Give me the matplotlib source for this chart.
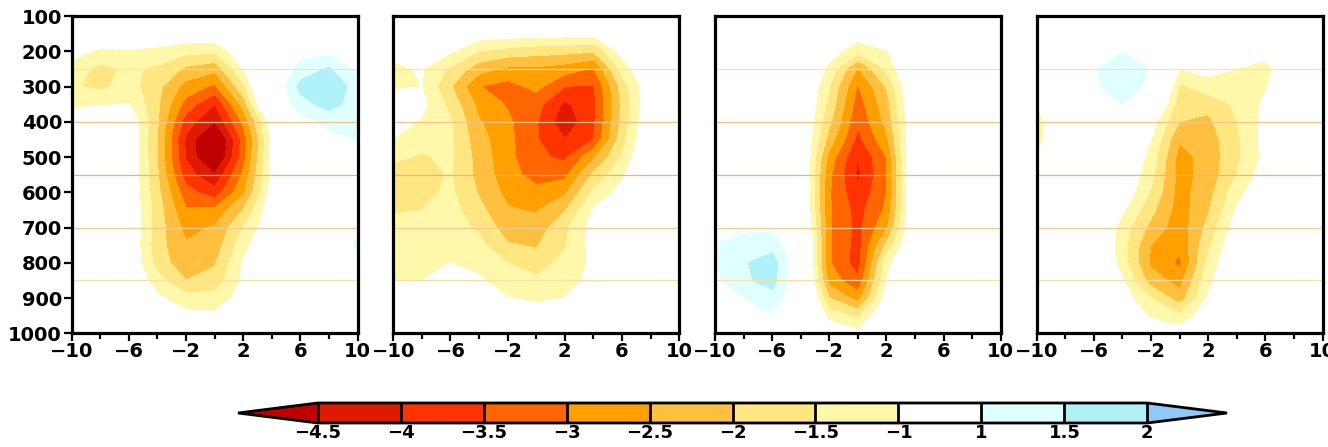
import numpy as np
import matplotlib
matplotlib.use("Agg")
import matplotlib.pyplot as plt
from matplotlib.colors import ListedColormap, BoundaryNorm

# ---------------- data ----------------
x_lon = [-10, -8, -6, -4, -2, 0, 2, 4, 6, 8, 10]
p_lev = [100, 150, 200, 250, 300, 350, 400, 450, 500, 550,
         600, 650, 700, 750, 800, 850, 900, 950, 1000]

# each inner list: one x column (x = -10 ... 10), values from p=100 down to p=1000
panel_a = [
    [0, -0.3, -0.8, -1.2, -1.45, -1.1, -0.6, -0.4, -0.3, -0.3, -0.2, -0.2, -0.2, -0.2, -0.1, -0.1, 0, 0, 0],
    [0, -0.5, -1.1, -1.65, -1.6, -1.05, -0.6, -0.4, -0.3, -0.3, -0.3, -0.3, -0.3, -0.3, -0.2, -0.2, -0.1, 0, 0],
    [0, -0.5, -1.05, -1.4, -1.3, -0.98, -0.5, -0.5, -0.5, -0.5, -0.5, -0.5, -0.5, -0.5, -0.5, -0.35, -0.2, -0.1, 0],
    [0, -0.55, -1.15, -1.6, -1.85, -1.9, -1.95, -2.0, -2.0, -1.95, -1.85, -1.75, -1.75, -1.8, -1.7, -1.3, -0.9, -0.5, -0.2],
    [-0.1, -0.6, -1.35, -2.1, -2.7, -3.2, -3.75, -4.1, -4.05, -3.75, -3.3, -2.95, -2.65, -2.45, -2.35, -2.0, -1.3, -0.85, -0.4],
    [-0.1, -0.6, -1.4, -2.35, -3.1, -4.0, -4.5, -5.4, -5.3, -4.45, -3.8, -2.9, -2.45, -2.3, -2.05, -1.8, -1.3, -0.9, -0.4],
    [0, -0.3, -0.6, -1.0, -1.6, -2.3, -2.9, -3.3, -3.2, -2.9, -2.6, -2.0, -1.5, -1.2, -0.95, -0.9, -0.8, -0.4, -0.1],
    [0, 0, -0.2, 0.3, 0.4, 0.3, -0.7, -0.85, -0.85, -0.85, -0.8, -0.6, -0.5, -0.4, -0.3, -0.2, -0.1, 0, 0],
    [0, 0.2, 0.75, 1.2, 1.65, 1.3, 0.75, 0.4, 0.2, 0, 0, 0, 0, 0, 0, 0, 0, 0, 0],
    [0, 0.3, 0.85, 1.55, 1.85, 1.7, 1.15, 0.85, 0.5, 0.3, 0.2, 0.2, 0.3, 0.4, 0.3, 0.1, 0, 0, 0],
    [0, 0.2, 0.6, 0.85, 1.3, 1.25, 1.1, 1.0, 0.6, 0.4, 0.4, 0.6, 0.9, 1.1, 0.8, 0.4, 0.2, 0, 0],
]

panel_b = [
    [0, -0.3, -0.85, -1.1, -1.05, -0.8, -0.8, -1.02, -1.4, -1.7, -1.7, -1.55, -1.35, -1.2, -1.1, -1.02, -0.6, -0.3, 0],
    [0, -0.3, -0.7, -0.95, -1.0, -0.85, -1.05, -1.35, -1.55, -1.7, -1.65, -1.5, -1.35, -1.25, -1.15, -1.0, -0.6, -0.3, 0],
    [0, -0.5, -0.95, -1.6, -1.95, -1.65, -1.45, -1.4, -1.4, -1.45, -1.4, -1.3, -1.25, -1.15, -1.0, -0.8, -0.5, -0.2, 0],
    [-0.15, -0.7, -1.5, -2.3, -2.98, -2.65, -2.45, -2.3, -2.2, -2.15, -2.05, -1.85, -1.6, -1.35, -1.2, -0.9, -0.6, -0.3, 0],
    [-0.2, -0.75, -1.7, -2.6, -3.2, -3.05, -2.9, -2.85, -2.85, -2.8, -2.65, -2.45, -2.25, -1.95, -1.5, -1.3, -0.98, -0.6, -0.2],
    [-0.2, -0.8, -1.8, -2.6, -2.85, -3.3, -3.45, -3.45, -3.4, -3.2, -2.85, -2.55, -2.3, -2.05, -1.75, -1.4, -1.1, -0.7, -0.3],
    [-0.2, -0.8, -1.85, -2.75, -3.5, -4.1, -4.35, -4.0, -3.6, -3.15, -2.6, -2.05, -1.6, -1.55, -1.35, -1.2, -1.0, -0.6, -0.3],
    [-0.2, -0.85, -1.95, -3.05, -3.55, -3.65, -3.6, -3.5, -2.6, -1.9, -1.4, -0.95, -0.8, -0.8, -0.9, -0.85, -0.3, -0.1, 0],
    [0, -0.4, -0.8, -1.3, -1.8, -1.9, -1.85, -1.7, -1.45, -1.1, -0.8, -0.5, -0.4, -0.35, -0.3, -0.2, -0.1, 0, 0],
    [0, -0.1, -0.2, -0.4, -0.5, -0.5, -0.45, -0.35, -0.2, -0.1, 0, 0, 0, 0, 0, 0, 0, 0, 0],
    [0, 0.2, 0.6, 1.05, 0.5, 0.2, 0, 0, 0, 0, 0, 0, 0, 0, 0, 0, 0, 0, 0],
]

panel_c = [
    [0, 0, 0, 0, 0, 0, 0, 0, 0, 0, 0, 0, 0.7, 1.0, 1.05, 0.85, 0.4, 0.1, 0],
    [0, 0, 0, 0, 0, 0, 0, 0, 0, 0, 0, 0, 0.9, 1.2, 1.45, 1.4, 1.0, 0.4, 0.1],
    [0, 0, 0, 0, 0, 0, 0, 0, 0, 0, 0, 0.5, 0.9, 1.3, 1.75, 1.7, 1.3, 0.95, 0.2],
    [0, 0, -0.1, -0.15, -0.2, -0.25, -0.3, -0.3, -0.2, -0.2, -0.2, -0.1, 0.2, 0.4, 0.4, 0.4, 0.4, 0.2, 0],
    [0, -0.3, -0.75, -1.15, -1.5, -1.65, -1.9, -2.2, -2.7, -2.9, -2.95, -2.95, -2.95, -2.95, -2.95, -2.7, -2.0, -1.2, -0.5],
    [-0.1, -0.7, -1.35, -2.55, -3.05, -3.25, -3.4, -3.65, -4.0, -4.1, -3.9, -3.7, -3.65, -3.7, -3.75, -3.4, -2.7, -1.6, -0.85],
    [0, -0.3, -1.05, -1.4, -1.95, -2.2, -2.35, -2.6, -3.0, -3.05, -3.0, -2.9, -2.6, -1.9, -1.2, -1.0, -0.8, -0.4, -0.2],
    [0, 0, -0.1, -0.2, -0.25, -0.3, -0.35, -0.3, -0.1, -0.05, -0.1, -0.2, -0.2, -0.2, -0.1, -0.05, 0, 0, 0],
    [0] * 19,
    [0] * 19,
    [0] * 19,
]

panel_d = [
    [0, 0, 0, -0.2, -0.6, -1.0, -1.25, -1.2, -1.0, -0.6, -0.3, -0.2, -0.1, 0, 0, 0, 0, 0, 0],
    [0, 0, 0.2, 0.3, 0.1, -0.2, -0.3, -0.3, -0.2, -0.1, 0, 0, 0, 0, 0, 0, 0, 0, 0],
    [0, 0.2, 0.7, 0.95, 0.9, 0.6, 0.2, 0, 0, 0, 0, 0, -0.1, -0.1, -0.1, -0.1, 0, 0, 0],
    [0, 0.4, 0.98, 1.35, 1.3, 1.0, 0.5, 0.1, -0.3, -0.45, -0.6, -0.9, -1.25, -1.3, -1.25, -0.95, -0.7, -0.4, -0.1],
    [0, 0.3, 0.65, 0.96, 0.85, 0.1, -0.75, -1.0, -1.2, -1.35, -1.55, -1.85, -2.15, -2.5, -2.6, -2.25, -1.5, -1.1, -0.4],
    [0, 0, -0.6, -1.0, -1.6, -1.8, -2.0, -2.45, -2.7, -2.7, -2.7, -2.75, -2.8, -2.9, -3.1, -2.7, -2.25, -1.4, -0.7],
    [0, 0, -0.5, -0.85, -1.2, -1.85, -2.1, -2.25, -2.3, -2.3, -2.2, -2.05, -1.85, -1.6, -1.35, -1.15, -0.95, -0.6, -0.2],
    [0, 0, -0.6, -1.0, -1.25, -1.4, -1.5, -1.6, -1.6, -1.5, -1.2, -0.95, -0.7, -0.5, -0.4, -0.3, -0.2, -0.1, 0],
    [0, -0.2, -0.85, -1.15, -1.05, -0.9, -0.85, -0.8, -0.85, -0.7, -0.5, -0.3, -0.2, -0.1, 0, 0, 0, 0, 0],
    [0, 0, -0.3, -0.5, -0.5, -0.4, -0.35, -0.3, -0.3, -0.2, -0.1, 0, 0, 0, 0, 0, 0, 0, 0],
    [0] * 19,
]

levels = [-4.5, -4, -3.5, -3, -2.5, -2, -1.5, -1, 1, 1.5, 2]
level_labels = ["\u22124.5", "\u22124", "\u22123.5", "\u22123", "\u22122.5", "\u22122",
                "\u22121.5", "\u22121", "1", "1.5", "2"]
ref_lines = [250, 400, 550, 700, 850]
x_major = [-10, -6, -2, 2, 6, 10]
x_major_labels = ["\u221210", "\u22126", "\u22122", "2", "6", "10"]
x_minor = [-8, -4, 0, 4, 8]
y_ticks = [100, 200, 300, 400, 500, 600, 700, 800, 900, 1000]

# ---------------- style ----------------
band_colors = ["#E01A00", "#FF3300", "#FF6600", "#FFA000", "#FFC040",
               "#FFE680", "#FFF8AA", "#FFFFFF", "#E0FFFF", "#B0F0F8"]
under_color = "#BF0000"
over_color = "#90C8F8"
line_colors = ["#FDE3A8", "#F8C486", "#F7B070", "#F9CB90", "#FDE0A0"]

plt.rcParams["font.family"] = ["DejaVu Sans"]
plt.rcParams["font.weight"] = "bold"

cmap = ListedColormap(band_colors)
cmap.set_under(under_color)
cmap.set_over(over_color)
norm = BoundaryNorm(levels, cmap.N)

W, H = 1328, 447
fig = plt.figure(figsize=(W / 100, H / 100), dpi=100)

lefts = [71.7, 393.3, 715.0, 1036.7]
pw = 285.8
top, bot = 16.0, 333.3

X, P = np.meshgrid(x_lon, p_lev)
panels = [panel_a, panel_b, panel_c, panel_d]

cf = None
for i, (lx, data) in enumerate(zip(lefts, panels)):
    ax = fig.add_axes([lx / W, (H - bot) / H, pw / W, (bot - top) / H])
    Z = np.array(data, dtype=float).T
    cf = ax.contourf(X, P, Z, levels=levels, cmap=cmap, norm=norm, extend="both")
    for yl, c in zip(ref_lines, line_colors):
        ax.axhline(yl, color=c, lw=0.9, zorder=3)
    ax.set_xlim(-10, 10)
    ax.set_ylim(1000, 100)
    for s in ax.spines.values():
        s.set_linewidth(2.3)
        s.set_zorder(5)
    ax.set_xticks(x_major)
    ax.set_xticklabels(x_major_labels)
    ax.set_xticks(x_minor, minor=True)
    ax.tick_params(axis="x", which="major", direction="out", length=6, width=1.6,
                   pad=0.5, labelsize=14, top=False)
    ax.tick_params(axis="x", which="minor", direction="out", length=4, width=1.6,
                   top=False)
    if i == 0:
        ax.set_yticks(y_ticks)
        ax.set_yticklabels([str(v) for v in y_ticks])
        ax.tick_params(axis="y", direction="out", length=6, width=1.6, pad=1,
                       labelsize=14, right=False)
    else:
        ax.set_yticks([])
    for lab in ax.get_xticklabels() + ax.get_yticklabels():
        lab.set_fontweight("bold")

# ---------------- colorbar ----------------
cb_left, cb_right = 238.0, 1227.0
cb_top, cb_bot = 403.0, 423.0
cax = fig.add_axes([cb_left / W, (H - cb_bot) / H, (cb_right - cb_left) / W,
                    (cb_bot - cb_top) / H])
cb = fig.colorbar(cf, cax=cax, orientation="horizontal", extend="both",
                  extendfrac=0.096, drawedges=True, ticks=levels,
                  spacing="uniform")
cb.outline.set_linewidth(2.0)
cb.dividers.set_linewidth(2.0)
cb.dividers.set_color("black")
cb.ax.set_xticklabels(level_labels)
cb.ax.tick_params(length=0, labelsize=13, pad=1)
for lab in cb.ax.get_xticklabels():
    lab.set_fontweight("bold")

fig.savefig("out.png", dpi=100)
